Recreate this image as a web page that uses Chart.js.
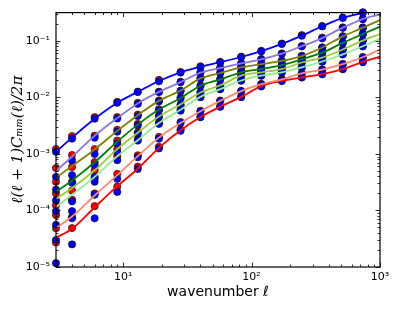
<!DOCTYPE html>
<html><head><meta charset="utf-8">
<script src="https://cdn.jsdelivr.net/npm/chart.js@4.4.1/dist/chart.umd.min.js"></script>
<style>html,body{margin:0;padding:0;background:#fff;}canvas{display:block;}</style>
</head><body>
<canvas id="c" width="399" height="318"></canvas>
<script>
// wavenumbers of the sample points and of the theory curves
const dotEll  = [3,4,6,9,13,19,28,40,57,83,119,172,246,355,513,735];
const lineEll = [3,4,6,9,13,19,28,40,57,83,119,172,246,355,513,735,1000];

// theory curves
const lineBlue       = [1.09e-3,1.94e-3,4.19e-3,8.05e-3,1.25e-2,1.95e-2,2.78e-2,3.48e-2,4.19e-2,5.18e-2,6.58e-2,8.83e-2,0.124,0.181,0.255,0.317,0.41];
const linePurple     = [4.99e-4,8.91e-4,2.10e-3,4.31e-3,7.83e-3,1.25e-2,1.86e-2,2.74e-2,3.30e-2,3.98e-2,4.72e-2,5.93e-2,8.04e-2,0.112,0.171,0.243,0.292];
const lineOlive      = [3.78e-4,6.10e-4,1.20e-3,2.56e-3,4.85e-3,8.67e-3,1.32e-2,2.17e-2,2.70e-2,3.39e-2,3.87e-2,4.42e-2,5.38e-2,7.62e-2,0.120,0.171,0.233];
const lineGreen      = [2.15e-4,3.40e-4,7.14e-4,1.65e-3,3.30e-3,6.10e-3,9.77e-3,1.61e-2,2.08e-2,2.78e-2,3.17e-2,3.72e-2,4.72e-2,6.17e-2,9.20e-2,0.132,0.178];
const lineYellowGreen= [1.60e-4,2.50e-4,5.14e-4,1.22e-3,2.37e-3,4.57e-3,7.53e-3,1.22e-2,1.63e-2,2.43e-2,2.78e-2,3.17e-2,4.14e-2,5.06e-2,7.03e-2,0.101,0.132];
const lineLightGreen = [1.15e-4,1.90e-4,3.93e-4,9.08e-4,1.75e-3,3.53e-3,6.05e-3,1.02e-2,1.40e-2,1.99e-2,2.43e-2,2.78e-2,3.39e-2,4.31e-2,5.77e-2,8.04e-2,0.109];
const lineSalmon     = [4.84e-5,7.82e-5,1.84e-4,4.21e-4,9.16e-4,1.94e-3,3.53e-3,5.70e-3,8.67e-3,1.29e-2,1.71e-2,2.08e-2,2.65e-2,3.10e-2,3.87e-2,5.12e-2,7.03e-2];
const lineRed        = [3.31e-5,4.74e-5,1.14e-4,2.69e-4,5.47e-4,1.28e-3,2.62e-3,4.49e-3,6.87e-3,1.02e-2,1.58e-2,1.96e-2,2.26e-2,2.59e-2,3.17e-2,4.24e-2,5.26e-2];

// red sample points (one per curve)
const redBlue       = [1.22e-3,2.07e-3,4.49e-3,8.32e-3,1.26e-2,2.04e-2,2.81e-2,3.55e-2,4.25e-2,5.25e-2,6.65e-2,8.95e-2,0.126,0.183,0.258,0.32];
const redPurple     = [5.62e-4,9.57e-4,2.10e-3,4.49e-3,8.0e-3,1.26e-2,1.89e-2,2.78e-2,3.35e-2,4.02e-2,4.78e-2,6.0e-2,8.1e-2,0.114,0.173,0.246];
const redOlive      = [3.22e-4,5.86e-4,1.22e-3,2.67e-3,4.95e-3,8.83e-3,1.32e-2,2.2e-2,2.74e-2,3.44e-2,3.92e-2,4.48e-2,5.45e-2,7.7e-2,0.121,0.173];
const redGreen      = [2.0e-4,3.22e-4,7.14e-4,1.72e-3,3.39e-3,6.17e-3,9.95e-3,1.63e-2,2.11e-2,2.82e-2,3.21e-2,3.76e-2,4.78e-2,6.24e-2,9.3e-2,0.134];
const redYellowGreen= [1.24e-4,2.25e-4,5.14e-4,1.22e-3,2.42e-3,4.76e-3,7.53e-3,1.24e-2,1.65e-2,2.46e-2,2.82e-2,3.21e-2,4.19e-2,5.12e-2,7.1e-2,0.102];
const redLightGreen = [8.30e-5,1.55e-4,3.67e-4,9.08e-4,1.83e-3,3.60e-3,6.05e-3,1.03e-2,1.42e-2,2.01e-2,2.46e-2,2.82e-2,3.43e-2,4.36e-2,5.84e-2,8.12e-2];
const redSalmon     = [4.84e-5,7.66e-5,2.0e-4,4.43e-4,9.47e-4,2.0e-3,3.67e-3,5.8e-3,8.8e-3,1.31e-2,1.73e-2,2.11e-2,2.69e-2,3.14e-2,3.92e-2,5.18e-2];
const redRed        = [2.71e-5,4.88e-5,1.19e-4,2.64e-4,5.97e-4,1.34e-3,2.72e-3,4.58e-3,7.0e-3,1.04e-2,1.6e-2,1.99e-2,2.29e-2,2.63e-2,3.21e-2,4.3e-2];

// blue sample points (one per curve)
const blueBlue       = [1.09e-3,1.86e-3,4.19e-3,8.05e-3,1.25e-2,1.92e-2,2.75e-2,3.45e-2,4.15e-2,5.15e-2,6.55e-2,8.80e-2,0.123,0.180,0.254,0.316];
const bluePurple     = [3.93e-4,7.66e-4,1.94e-3,4.23e-3,7.69e-3,1.24e-2,1.85e-2,2.72e-2,3.27e-2,3.95e-2,4.70e-2,5.90e-2,8.0e-2,0.111,0.170,0.241];
const blueOlive      = [2.34e-4,4.21e-4,9.95e-4,2.47e-3,4.67e-3,8.49e-3,1.29e-2,2.15e-2,2.68e-2,3.36e-2,3.85e-2,4.40e-2,5.35e-2,7.58e-2,0.119,0.169];
const blueGreen      = [1.51e-4,3.09e-4,6.34e-4,1.53e-3,3.19e-3,5.93e-3,9.57e-3,1.59e-2,2.06e-2,2.76e-2,3.15e-2,3.70e-2,4.69e-2,6.13e-2,9.15e-2,0.131];
const blueYellowGreen= [9.73e-5,1.45e-4,3.93e-4,1.07e-3,2.28e-3,4.49e-3,7.24e-3,1.21e-2,1.61e-2,2.41e-2,2.76e-2,3.15e-2,4.11e-2,5.02e-2,6.98e-2,0.100];
const blueLightGreen = [5.56e-5,9.73e-5,3.22e-4,7.74e-4,1.72e-3,3.39e-3,5.81e-3,1.01e-2,1.39e-2,1.97e-2,2.41e-2,2.76e-2,3.37e-2,4.28e-2,5.73e-2,7.98e-2];
const blueSalmon     = [3.0e-5,7.26e-5,1.89e-4,3.63e-4,8.73e-4,1.86e-3,3.53e-3,5.65e-3,8.6e-3,1.28e-2,1.70e-2,2.06e-2,2.63e-2,3.08e-2,3.84e-2,5.08e-2];
const blueRed        = [1.17e-5,2.51e-5,7.26e-5,2.12e-4,5.41e-4,1.25e-3,2.56e-3,4.45e-3,6.8e-3,1.01e-2,1.56e-2,1.94e-2,2.24e-2,2.56e-2,3.14e-2,4.2e-2];

// axes
const xTickValues = [10,100,1000];
const xTickLabels = ['10\u00B9','10\u00B2','10\u00B3'];
const yTickValues = [1e-5,1e-4,1e-3,1e-2,1e-1];
const yTickLabels = ['10\u207B\u2075','10\u207B\u2074','10\u207B\u00B3','10\u207B\u00B2','10\u207B\u00B9'];
const xRange = [3,1000];
const yRange = [1e-5,0.316];
const xTitle = 'wavenumber \u2113';
const yTitle = '\u2113(\u2113 + 1)C\u2098\u2098(\u2113)/2\u03C0';

const curves = [
  {name:'blue',        color:'#0000ff', line:lineBlue},
  {name:'purple',      color:'#8a78e0', line:linePurple},
  {name:'olive',       color:'#808000', line:lineOlive},
  {name:'green',       color:'#008000', line:lineGreen},
  {name:'yellowgreen', color:'#9acd32', line:lineYellowGreen},
  {name:'lightgreen',  color:'#90ee90', line:lineLightGreen},
  {name:'salmon',      color:'#fa8a6e', line:lineSalmon},
  {name:'red',         color:'#ff0000', line:lineRed}
];
const redSamples  = [redBlue,redPurple,redOlive,redGreen,redYellowGreen,redLightGreen,redSalmon,redRed];
const blueSamples = [blueBlue,bluePurple,blueOlive,blueGreen,blueYellowGreen,blueLightGreen,blueSalmon,blueRed];

const toPts = (xs, ys) => ys.map((v,i)=>({x:xs[i], y:v}));
const datasets = [];
curves.forEach(c => datasets.push({
  label: c.name, data: toPts(lineEll, c.line), showLine: true,
  borderColor: c.color, borderWidth: 1.8, pointRadius: 0,
  cubicInterpolationMode: 'monotone', order: 0
}));
const dotStyle = {showLine:false, pointRadius:3.6, pointBorderWidth:0.7, pointBorderColor:'#111', clip:false};
datasets.push(Object.assign({label:'blue samples', data: blueSamples.flatMap(s=>toPts(dotEll,s)),
  pointBackgroundColor:'#0000ff', backgroundColor:'#0000ff', order:1}, dotStyle));
datasets.push(Object.assign({label:'red samples', data: redSamples.flatMap(s=>toPts(dotEll,s)),
  pointBackgroundColor:'#ff0000', backgroundColor:'#ff0000', order:2}, dotStyle));

function logTicks(lo, hi){
  const out=[];
  for(let e=Math.floor(Math.log10(lo)); e<=Math.ceil(Math.log10(hi)); e++){
    for(let m=1;m<10;m++){const t=m*Math.pow(10,e); if(t>=lo*0.9999 && t<=hi*1.0001) out.push({t, major:m===1});}
  }
  return out;
}
const frameTicks = {
  id:'frameTicks',
  afterDatasetsDraw(chart){
    const {ctx, chartArea:a, scales:{x,y}} = chart;
    ctx.save();
    ctx.strokeStyle='#000'; ctx.lineWidth=0.8;
    const seg=(x1,y1,x2,y2)=>{ctx.beginPath();ctx.moveTo(x1,y1);ctx.lineTo(x2,y2);ctx.stroke();};
    logTicks(xRange[0],xRange[1]).forEach(({t,major})=>{
      const p=Math.round(x.getPixelForValue(t))+0.5, L=major?4.5:2.5;
      seg(p,a.bottom,p,a.bottom-L); seg(p,a.top,p,a.top+L);
    });
    logTicks(yRange[0],yRange[1]).forEach(({t,major})=>{
      const p=Math.round(y.getPixelForValue(t))+0.5, L=major?4.5:2.5;
      seg(a.left,p,a.left+L,p); seg(a.right,p,a.right-L,p);
    });
    ctx.lineWidth=1.2;
    ctx.strokeRect(a.left, a.top, a.right-a.left, a.bottom-a.top);
    ctx.restore();
  }
};

new Chart(document.getElementById('c'), {
  type:'scatter',
  data:{datasets},
  plugins:[frameTicks],
  options:{
    responsive:false, animation:false, events:[],
    layout:{padding:{left:0,right:19,top:7,bottom:0}},
    plugins:{legend:{display:false}, tooltip:{enabled:false}},
    scales:{
      x:{type:'logarithmic', min:xRange[0], max:xRange[1],
        grid:{display:false, drawTicks:false}, border:{display:false},
        afterBuildTicks:s=>{s.ticks=xTickValues.map(v=>({value:v, major:true}));},
        afterFit:s=>{s.height=51;},
        ticks:{autoSkip:false, maxRotation:0, padding:4, color:'#000',
          font:{family:'DejaVu Sans', size:11},
          callback:v=>{const i=xTickValues.indexOf(v); return i>=0?xTickLabels[i]:'';}},
        title:{display:true, text:xTitle, color:'#000', font:{family:'DejaVu Sans', size:14}, padding:{top:0,bottom:17}}
      },
      y:{type:'logarithmic', min:yRange[0], max:yRange[1],
        grid:{display:false, drawTicks:false}, border:{display:false},
        afterBuildTicks:s=>{s.ticks=yTickValues.map(v=>({value:v, major:true}));},
        afterFit:s=>{s.width=56;},
        ticks:{autoSkip:false, padding:6, color:'#000',
          font:{family:'DejaVu Sans', size:11},
          callback:v=>{const i=yTickValues.findIndex(t=>Math.abs(t-v)/t<1e-6); return i>=0?yTickLabels[i]:'';}},
        title:{display:true, text:yTitle, color:'#000', font:{family:'DejaVu Serif', style:'italic', size:15}, padding:{top:9,bottom:0}}
      }
    }
  }
});
</script>
</body></html>
